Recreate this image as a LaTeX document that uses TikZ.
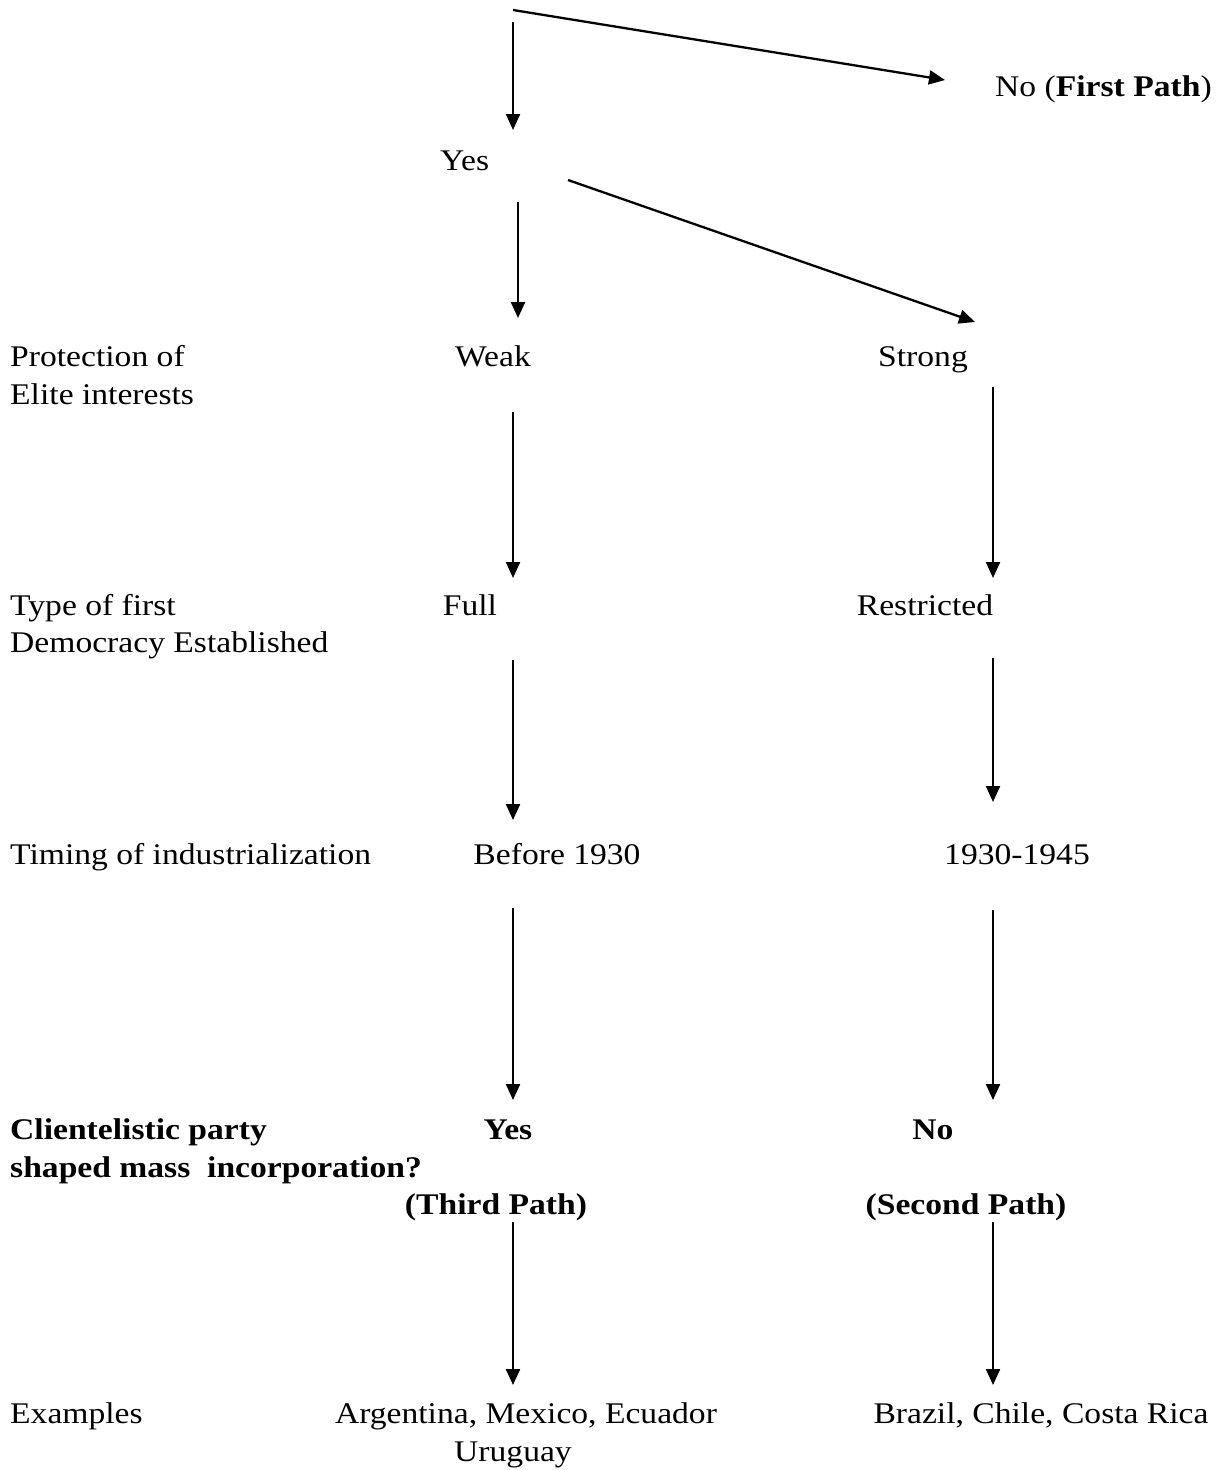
\documentclass[tikz,border=0pt]{standalone}
\usepackage{fontspec}
\setmainfont{Liberation Serif}[FakeStretch=1.12]
\usetikzlibrary{arrows.meta}
\begin{document}
\begin{tikzpicture}[x=1pt,y=-1pt,
  txt/.style={inner sep=0pt,font=\fontsize{30}{38}\selectfont},
  lbl/.style={txt,anchor=base west},
  ctr/.style={txt,anchor=base},
  bld/.style={txt,anchor=base,font=\fontsize{30}{38}\selectfont\bfseries},
  arr/.style={line width=2.3pt,-{Triangle[length=16pt,width=14pt]}}]
\useasboundingbox (0,0) rectangle (1220,1470);
% texts
\node[lbl] (nofirst) at (995,96) {No (\textbf{First Path})};
\node[lbl] (yes1) at (440,170) {Yes};
\node[lbl] (prot) at (10,366) {Protection of};
\node[lbl] (elite) at (10,404) {Elite interests};
\node[ctr] (weak) at (493,366) {Weak};
\node[ctr] (strong) at (923,366) {Strong};
\node[lbl] (type) at (10,615) {Type of first};
\node[lbl] (democ) at (10,652) {Democracy Established};
\node[ctr] (full) at (470,615) {Full};
\node[ctr] (restr) at (925,615) {Restricted};
\node[lbl] (timing) at (10,864) {Timing of industrialization};
\node[ctr] (before) at (557,864) {Before 1930};
\node[ctr] (period) at (1017,864) {1930-1945};
\node[lbl,font=\fontsize{30}{38}\selectfont\bfseries] (client) at (10,1139) {Clientelistic party};
\node[lbl,font=\fontsize{30}{38}\selectfont\bfseries] (shaped) at (10,1177) {shaped mass\ \ incorporation?};
\node[bld] (yes2) at (508,1139) {Yes};
\node[bld] (no2) at (933,1139) {No};
\node[bld] (third) at (496,1214) {(Third Path)};
\node[bld] (second) at (966,1214) {(Second Path)};
\node[lbl] (examples) at (10,1423) {Examples};
\node[ctr] (argent) at (526,1423) {Argentina, Mexico, Ecuador};
\node[ctr] (urug) at (513,1461) {Uruguay};
\node[ctr] (brazil) at (1041,1423) {Brazil, Chile, Costa Rica};
% connector ends
\coordinate (root) at (513,10);
\coordinate (rootv) at (513,22);
\coordinate (noend) at (945,80);
\coordinate (yesend) at (513,130);
\coordinate (ys) at (518,202);
\coordinate (ye) at (518,318);
\coordinate (yds) at (568,180);
\coordinate (yde) at (975,322);
\coordinate (ws) at (513,412);
\coordinate (we) at (513,578);
\coordinate (ss) at (993,387);
\coordinate (se) at (993,578);
\coordinate (fs) at (513,660);
\coordinate (fe) at (513,820);
\coordinate (rs) at (993,658);
\coordinate (re) at (993,802);
\coordinate (bs) at (513,908);
\coordinate (be) at (513,1100);
\coordinate (ps) at (993,910);
\coordinate (pe) at (993,1100);
\coordinate (ts) at (513,1222);
\coordinate (te) at (513,1385);
\coordinate (cs) at (993,1222);
\coordinate (ce) at (993,1385);
% connectors
\draw[arr] (root) -- (noend);
\draw[arr] (rootv) -- (yesend);
\draw[arr] (ys) -- (ye);
\draw[arr] (yds) -- (yde);
\draw[arr] (ws) -- (we);
\draw[arr] (ss) -- (se);
\draw[arr] (fs) -- (fe);
\draw[arr] (rs) -- (re);
\draw[arr] (bs) -- (be);
\draw[arr] (ps) -- (pe);
\draw[arr] (ts) -- (te);
\draw[arr] (cs) -- (ce);
\end{tikzpicture}
\end{document}
